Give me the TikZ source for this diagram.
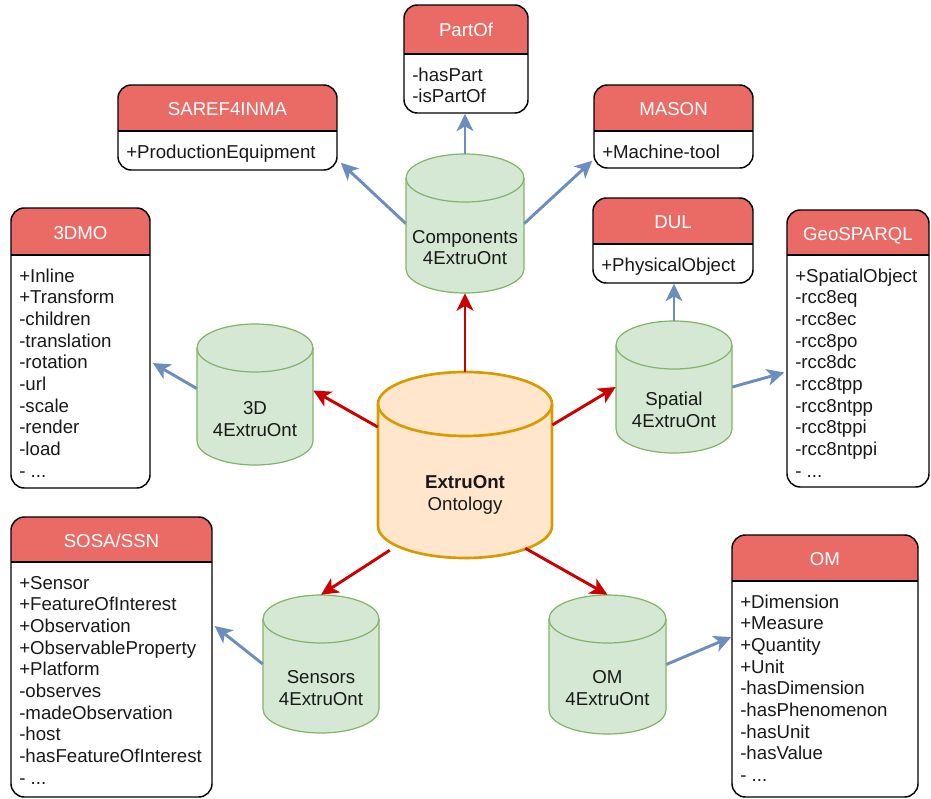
\documentclass[tikz,border=0pt]{standalone}
\usepackage{fontspec}
\setmainfont{Liberation Sans}
\usetikzlibrary{arrows.meta,fit,calc}
\definecolor{hdr}{HTML}{EA6B66}
\definecolor{blueln}{HTML}{6C8EBF}
\definecolor{redln}{HTML}{CC0000}
\definecolor{grfill}{HTML}{D5E8D4}
\definecolor{grline}{HTML}{82B366}
\definecolor{orfill}{HTML}{FFE6CC}
\definecolor{orline}{HTML}{D79B00}
\newcommand\moreitems{- ...}
\tikzset{
  boxst/.style={draw=black, line width=1.1pt, rounded corners=10pt, inner sep=0pt},
  boxsep/.style={draw=black, line width=1.1pt},
  titlest/.style={text=white, font=\fontsize{14pt}{16.3pt}\selectfont, inner sep=0pt},
  linest/.style={text=black!90, font=\fontsize{14pt}{16.3pt}\selectfont, inner sep=0pt},
  greencyl/.style={fill=grfill, draw=grline, line width=0.9pt},
  orangecyl/.style={fill=orfill, draw=orline, line width=2pt},
  cyltext/.style={align=center, text=black!90, font=\fontsize{14pt}{16.3pt}\selectfont, inner sep=0pt},
  bluearrow/.style={draw=blueln, line width=2.2pt, -{Stealth[length=13pt, width=12.5pt, inset=3.5pt]}},
  redarrow/.style={draw=redln, line width=2.2pt, -{Stealth[length=13pt, width=12.5pt, inset=3.5pt]}},
}
% name x1 y1 x2 y2 yh title lines
\newcommand\umlbox[8]{%
  \begin{scope}
    \clip[rounded corners=10pt] (#2,#3) rectangle (#4,#5);
    \fill[hdr] (#2,#3) rectangle (#4,#6);
  \end{scope}
  \node[boxst, fit={(#2,#3) (#4,#5)}] (#1) {};
  \draw[boxsep] (#2,#6) -- (#4,#6);
  \node[titlest, anchor=base] (#1-title) at ({(#2+#4)/2},{(#3+#6)/2+7.5}) {#7};
  \foreach \lineText [count=\lineNo] in {#8}
    \node[linest, anchor=base west] (#1-l\lineNo) at (#2+8, #6+27+\lineNo*21.7-21.7) {\lineText};
}
% name x1 y1 x2 y2 r style
\newcommand\cyl[7]{%
  \pgfmathsetmacro\cylrx{(#4-#2)/2*0.75}%
  \pgfmathsetmacro\cylry{#6*0.75}%
  \filldraw[#7] (#2,#3+#6) arc[start angle=180,end angle=0,x radius=\cylrx pt,y radius=\cylry pt]
    -- (#4,#5-#6) arc[start angle=0,end angle=-180,x radius=\cylrx pt,y radius=\cylry pt] -- cycle;
  \draw[#7, fill=none] (#2,#3+#6) arc[start angle=180,end angle=360,x radius=\cylrx pt,y radius=\cylry pt];
  \node[fit={(#2,#3) (#4,#5)}, inner sep=0pt] (#1) {};
}
\begin{document}
\begin{tikzpicture}[x=0.75pt, y=-0.75pt]
\useasboundingbox (0,0) rectangle (931,799);

% boxes
\umlbox{partof}{404}{5}{528}{113}{54}{PartOf}{-hasPart,-isPartOf}
\umlbox{saref}{118}{85}{337}{170}{131}{SAREF4INMA}{+ProductionEquipment}
\umlbox{mason}{594}{85}{753}{168}{131}{MASON}{+Machine-tool}
\umlbox{dmo}{11}{208}{150}{488}{255}{3DMO}{+Inline,+Transform,-children,-translation,-rotation,-url,-scale,-render,-load,\moreitems}
\umlbox{dul}{593}{198}{753}{283}{244}{DUL}{+PhysicalObject}
\umlbox{geo}{787}{210}{929}{487}{255}{GeoSPARQL}{+SpatialObject,-rcc8eq,-rcc8ec,-rcc8po,-rcc8dc,-rcc8tpp,-rcc8ntpp,-rcc8tppi,-rcc8ntppi,\moreitems}
\umlbox{sosa}{11}{517}{212}{797}{562}{SOSA/SSN}{+Sensor,+FeatureOfInterest,+Observation,+ObservableProperty,+Platform,-observes,-madeObservation,-host,-hasFeatureOfInterest,\moreitems}
\umlbox{om}{732}{535}{918}{797}{581}{OM}{+Dimension,+Measure,+Quantity,+Unit,-hasDimension,-hasPhenomenon,-hasUnit,-hasValue,\moreitems}

% cylinders
\cyl{comp}{406}{154}{524}{293}{24}{greencyl}
\node[cyltext] (comp-t) at (465,247.5) {Components\\4ExtruOnt};
\cyl{d3}{197}{324}{313}{465}{24}{greencyl}
\node[cyltext] (d3-t) at (255,419) {3D\\4ExtruOnt};
\cyl{spat}{616}{321}{732}{453}{24}{greencyl}
\node[cyltext] (spat-t) at (674,410) {Spatial\\4ExtruOnt};
\cyl{sens}{263}{595}{379}{733}{24}{greencyl}
\node[cyltext] (sens-t) at (321,688) {Sensors\\4ExtruOnt};
\cyl{omc}{549}{595}{666}{734}{24}{greencyl}
\node[cyltext] (omc-t) at (607.5,688) {OM\\4ExtruOnt};
\cyl{ext}{378}{372}{552}{558}{32}{orangecyl}
\node[cyltext] (ext-t) at (465,495) {\textbf{ExtruOnt}\\Ontology};

% red connectors
\draw[redarrow] (ext.north) -- (ext.north |- comp.south);
\draw[redarrow] ([shift={(0,-38)}]ext.west) -- ([shift={(0,-4)}]d3.east);
\draw[redarrow] ([shift={(0,-40)}]ext.east) -- (spat.west);
\draw[redarrow] ([shift={(12,-8)}]ext.south west) -- (sens.north);
\draw[redarrow] ([shift={(-27,-10)}]ext.south east) -- (omc.north);

% blue connectors
\draw[bluearrow] (comp.north) -- (comp.north |- partof.south);
\draw[bluearrow] (comp.west) -- ([shift={(3,-8)}]saref.south east);
\draw[bluearrow] (comp.east) -- ([shift={(-1,-8)}]mason.south west);
\draw[bluearrow] ([shift={(0,-6)}]d3.west) -- ([shift={(2,15)}]dmo.east);
\draw[bluearrow] (spat.north) -- (spat.north |- dul.south);
\draw[bluearrow] (spat.east) -- ([shift={(-2,24)}]geo.west);
\draw[bluearrow] (sens.west) -- ([shift={(2,-31)}]sosa.east);
\draw[bluearrow] (omc.east) -- ([shift={(0,-29)}]om.west);
\end{tikzpicture}
\end{document}
